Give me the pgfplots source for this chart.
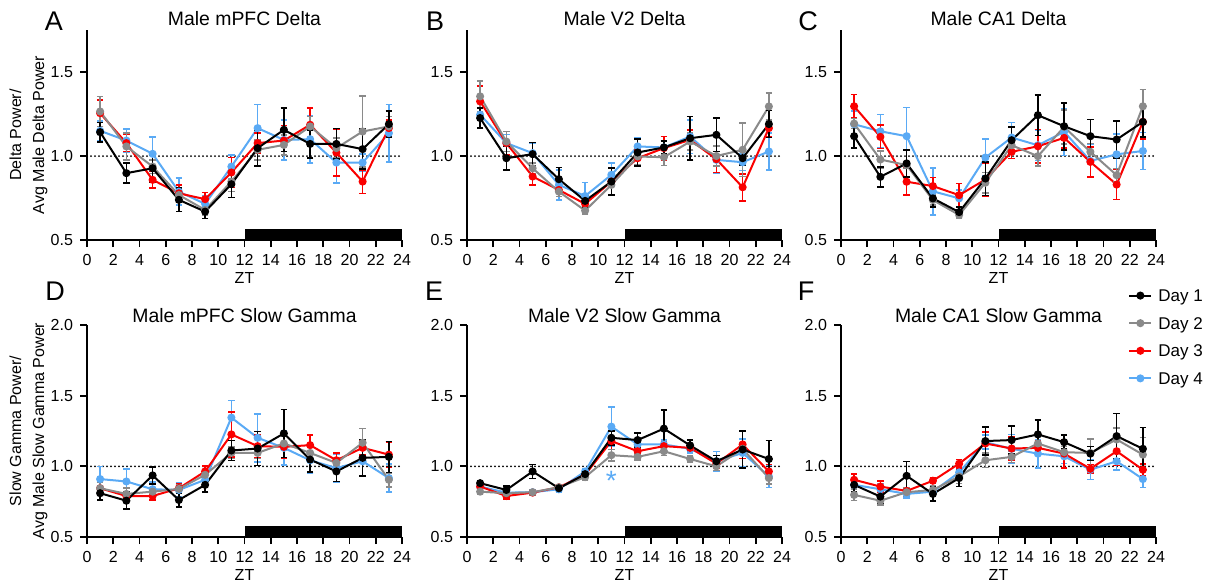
\documentclass[border=0pt]{standalone}
\usepackage{fontspec}
\setmainfont{Liberation Sans}
\usepackage{pgfplots}
\usepackage{pgfplotstable}
\pgfplotsset{compat=1.18}

\definecolor{dgray}{RGB}{138,138,138}
\definecolor{dred}{RGB}{250,0,0}
\definecolor{dblue}{RGB}{90,170,245}

% columns: ZT, then mean and SEM for Day 1..4
\pgfplotstableread{
x d1 e1 d2 e2 d3 e3 d4 e4
1 1.142 0.057 1.265 0.09 1.255 0.08 1.150 0.06
3 0.898 0.060 1.057 0.08 1.077 0.05 1.092 0.07
5 0.927 0.080 0.937 0.04 0.858 0.05 1.013 0.10
7 0.739 0.070 0.768 0.04 0.778 0.05 0.788 0.08
9 0.669 0.040 0.679 0.03 0.743 0.04 0.715 0.05
11 0.832 0.080 0.848 0.06 0.902 0.09 0.937 0.07
13 1.047 0.106 1.037 0.06 1.077 0.06 1.166 0.14
15 1.156 0.129 1.066 0.06 1.092 0.09 1.096 0.12
17 1.072 0.084 1.176 0.06 1.186 0.10 1.100 0.14
19 1.072 0.091 1.047 0.06 1.020 0.14 0.961 0.12
21 1.041 0.119 1.146 0.21 0.848 0.07 0.961 0.05
23 1.190 0.077 1.176 0.06 1.166 0.05 1.136 0.17
}\tabA
\pgfplotstableread{
x d1 e1 d2 e2 d3 e3 d4 e4
1 1.226 0.06 1.355 0.09 1.325 0.09 1.246 0.08
3 0.987 0.07 1.086 0.06 1.077 0.07 1.077 0.05
5 1.011 0.07 0.927 0.03 0.878 0.05 1.017 0.06
7 0.862 0.07 0.788 0.03 0.798 0.04 0.828 0.09
9 0.733 0.04 0.675 0.02 0.715 0.03 0.762 0.08
11 0.848 0.08 0.828 0.06 0.848 0.08 0.888 0.07
13 1.021 0.08 0.997 0.05 0.987 0.05 1.057 0.05
15 1.051 0.04 0.993 0.05 1.047 0.07 1.051 0.04
17 1.106 0.13 1.086 0.05 1.096 0.06 1.116 0.10
19 1.126 0.10 1.000 0.06 0.981 0.08 0.977 0.08
21 0.987 0.04 1.037 0.16 0.814 0.08 0.963 0.05
23 1.190 0.08 1.295 0.08 1.166 0.05 1.027 0.11
}\tabB
\pgfplotstableread{
x d1 e1 d2 e2 d3 e3 d4 e4
1 1.118 0.07 1.193 0.03 1.296 0.07 1.189 0.08
3 0.876 0.06 0.979 0.05 1.114 0.07 1.147 0.10
5 0.956 0.08 0.946 0.02 0.847 0.08 1.118 0.17
7 0.748 0.05 0.738 0.03 0.821 0.05 0.790 0.14
9 0.666 0.03 0.649 0.02 0.767 0.07 0.748 0.05
11 0.866 0.10 0.841 0.06 0.860 0.10 0.991 0.11
13 1.094 0.08 1.064 0.04 1.025 0.04 1.110 0.09
15 1.243 0.12 0.999 0.06 1.058 0.10 1.064 0.09
17 1.177 0.14 1.173 0.10 1.108 0.06 1.144 0.14
19 1.118 0.10 1.025 0.05 0.965 0.09 0.971 0.10
21 1.098 0.11 0.886 0.04 0.830 0.09 1.010 0.12
23 1.203 0.09 1.296 0.10 1.203 0.10 1.030 0.11
}\tabC
\pgfplotstableread{
x d1 e1 d2 e2 d3 e3 d4 e4
1 0.810 0.05 0.845 0.04 0.845 0.04 0.910 0.09
3 0.757 0.06 0.805 0.04 0.790 0.03 0.893 0.09
5 0.936 0.06 0.821 0.03 0.790 0.03 0.838 0.05
7 0.762 0.05 0.840 0.03 0.845 0.03 0.833 0.05
9 0.869 0.05 0.940 0.03 0.964 0.04 0.905 0.03
11 1.112 0.07 1.095 0.04 1.226 0.16 1.345 0.12
13 1.126 0.12 1.095 0.04 1.143 0.08 1.202 0.17
15 1.233 0.17 1.162 0.05 1.138 0.08 1.131 0.12
17 1.048 0.09 1.095 0.05 1.150 0.07 1.043 0.09
19 0.964 0.07 1.024 0.04 1.043 0.05 0.988 0.10
21 1.060 0.13 1.167 0.10 1.131 0.05 1.036 0.10
23 1.067 0.11 0.905 0.05 1.083 0.09 0.917 0.10
}\tabD
\pgfplotstableread{
x d1 e1 d2 e2 d3 e3 d4 e4
1 0.881 0.02 0.821 0.02 0.857 0.03 0.857 0.02
3 0.833 0.03 0.810 0.02 0.790 0.02 0.814 0.02
5 0.964 0.05 0.817 0.02 0.814 0.02 0.817 0.02
7 0.845 0.02 0.852 0.02 0.852 0.02 0.838 0.02
9 0.945 0.02 0.924 0.02 0.940 0.02 0.964 0.02
11 1.202 0.05 1.079 0.04 1.179 0.10 1.281 0.14
13 1.186 0.05 1.067 0.02 1.107 0.02 1.155 0.03
15 1.267 0.13 1.107 0.03 1.143 0.03 1.155 0.03
17 1.148 0.04 1.052 0.02 1.131 0.02 1.124 0.03
19 1.036 0.04 1.000 0.03 1.019 0.03 1.036 0.07
21 1.119 0.13 1.124 0.04 1.155 0.10 1.095 0.10
23 1.052 0.13 0.917 0.04 0.964 0.05 0.929 0.08
}\tabE
\pgfplotstableread{
x d1 e1 d2 e2 d3 e3 d4 e4
1 0.869 0.05 0.798 0.04 0.905 0.04 0.869 0.05
3 0.786 0.05 0.757 0.03 0.857 0.04 0.838 0.04
5 0.933 0.10 0.817 0.03 0.826 0.02 0.805 0.03
7 0.805 0.05 0.833 0.03 0.898 0.02 0.821 0.03
9 0.917 0.06 0.929 0.05 1.019 0.03 0.957 0.04
11 1.179 0.10 1.043 0.05 1.162 0.08 1.171 0.05
13 1.186 0.10 1.067 0.04 1.126 0.08 1.124 0.10
15 1.226 0.10 1.162 0.06 1.131 0.05 1.090 0.10
17 1.171 0.05 1.100 0.04 1.090 0.10 1.071 0.05
19 1.090 0.05 1.095 0.10 0.983 0.03 0.976 0.07
21 1.214 0.16 1.190 0.08 1.107 0.10 1.036 0.06
23 1.124 0.15 1.083 0.12 0.976 0.04 0.910 0.06
}\tabF

\pgfplotsset{
  ser/.style={line width=1pt, mark=*, mark size=1.5pt, mark options={solid},
    /pgfplots/error bars/y dir=both, /pgfplots/error bars/y explicit,
    /pgfplots/error bars/error bar style={line width=0.8pt},
    /pgfplots/error bars/error mark options={line width=0.8pt, mark size=1.6pt, rotate=90}},
  day1/.style={black, ser},
  day2/.style={dgray, ser},
  day3/.style={dred, ser},
  day4/.style={dblue, ser},
  panel/.style={
    scale only axis, width=157.5pt,
    xmin=0, xmax=24, xtick={0,2,...,24},
    axis lines=left, axis line style={-, line width=1pt},
    tick align=outside, major tick length=3.5pt, tick style={line width=0.9pt, black},
    ticklabel style={font=\fontsize{8}{9}\selectfont},
    /pgf/number format/assume math mode=true,
    y tick label style={/pgf/number format/.cd, fixed, fixed zerofill, precision=1},
    title style={font=\fontsize{9.7}{11}\selectfont, at={(0.5,1)}, anchor=base},
    xlabel={ZT}, xlabel style={font=\fontsize{8}{9}\selectfont, at={(axis description cs:0.5,0)}, anchor=center, yshift=-18.75pt},
    ylabel style={font=\fontsize{8}{11.5}\selectfont, align=center, at={(axis description cs:-0.186,0.5)}, anchor=center},
    clip=false,
    legend image code/.code={\draw[mark repeat=2,mark phase=2] plot coordinates {(0pt,0pt)(5.5pt,0pt)(11pt,0pt)};},
  },
  row1/.style={panel, height=105pt, ymin=0.5, ymax=1.75, ytick={0.5,1.0,1.5}, title style={yshift=-3.9pt}},
  row2/.style={panel, height=106pt, ymin=0.5, ymax=2.0, ytick={0.5,1.0,1.5,2.0}, title style={yshift=-4.9pt}},
}

\newcommand{\days}[1]{%
  \addplot[day4] table[x=x, y=d4, y error=e4] {#1};
  \addplot[day3] table[x=x, y=d3, y error=e3] {#1};
  \addplot[day2] table[x=x, y=d2, y error=e2] {#1};
  \addplot[day1] table[x=x, y=d1, y error=e1] {#1};
}
\newcommand{\decor}[1]{%
  \addplot[forget plot, black, line width=1pt, line cap=round, dash pattern=on 0pt off 2pt] coordinates {(0,1) (24,1)};
  \fill[black] (axis cs:12,0.5) rectangle (axis cs:24,#1);
}

\begin{document}
\begin{tikzpicture}
\begin{axis}[row1, at={(43.5pt,-120pt)}, anchor=south west, title={Male mPFC Delta},
  ylabel={Delta Power/\\Avg Male Delta Power}]
\decor{0.565}
\days{\tabA}
\end{axis}
\begin{axis}[row1, at={(233.5pt,-120pt)}, anchor=south west, title={Male V2 Delta}]
\decor{0.565}
\days{\tabB}
\end{axis}
\begin{axis}[row1, at={(420.5pt,-120pt)}, anchor=south west, title={Male CA1 Delta}]
\decor{0.565}
\days{\tabC}
\end{axis}
\begin{axis}[row2, at={(43.5pt,-268.5pt)}, anchor=south west, title={Male mPFC Slow Gamma},
  ylabel={Slow Gamma Power/\\Avg Male Slow Gamma Power}]
\decor{0.578}
\days{\tabD}
\end{axis}
\begin{axis}[row2, at={(233.5pt,-268.5pt)}, anchor=south west, title={Male V2 Slow Gamma}]
\decor{0.578}
\days{\tabE}
\node[text=dblue, font=\fontsize{14}{14}\selectfont, inner sep=0pt] at (axis cs:11,0.90) {*};
\end{axis}
\begin{axis}[row2, at={(420.5pt,-268.5pt)}, anchor=south west, title={Male CA1 Slow Gamma},
  legend entries={Day 4,Day 3,Day 2,Day 1}, reverse legend,
  legend style={draw=none, fill=none, inner sep=0pt, row sep=7.6pt, column sep=3pt,
    font=\fontsize{8.5}{10}\selectfont,
    nodes={inner sep=0pt, text height=6.2pt, text depth=0pt},
    at={(axis description cs:0.911,1.17)}, anchor=north west},
  legend cell align=left]
\decor{0.578}
\days{\tabF}
\end{axis}
\node[font=\fontsize{13.5}{14}\selectfont] at (27pt,-10.5pt) {A};
\node[font=\fontsize{13.5}{14}\selectfont] at (217.5pt,-10.5pt) {B};
\node[font=\fontsize{13.5}{14}\selectfont] at (404pt,-10.5pt) {C};
\node[font=\fontsize{13.5}{14}\selectfont] at (27.5pt,-145.5pt) {D};
\node[font=\fontsize{13.5}{14}\selectfont] at (217pt,-145.5pt) {E};
\node[font=\fontsize{13.5}{14}\selectfont] at (403pt,-145.5pt) {F};
\pgfresetboundingbox
\path[use as bounding box] (0,0) rectangle (607.5pt,-293pt);
\end{tikzpicture}
\end{document}
